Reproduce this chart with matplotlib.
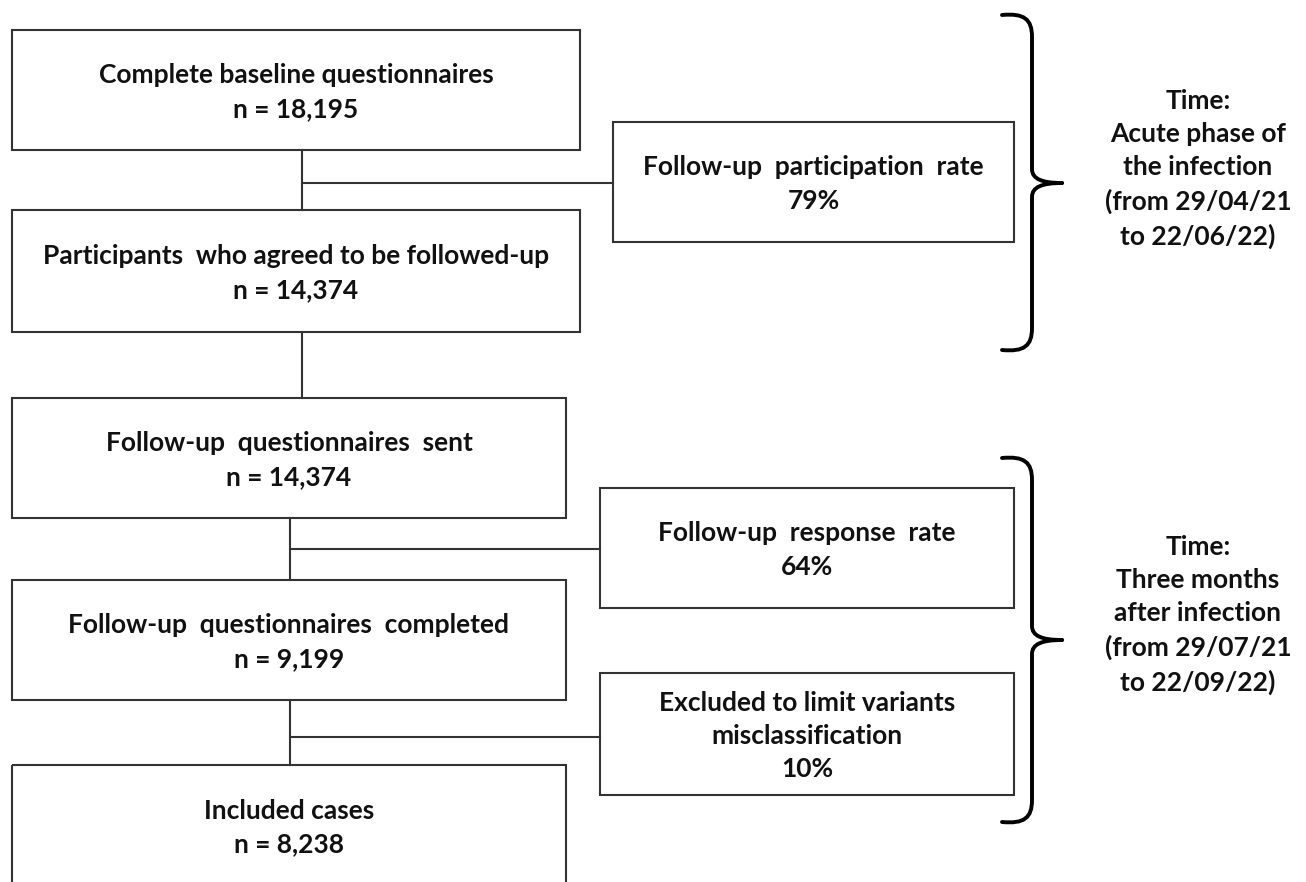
import matplotlib.pyplot as plt
from matplotlib.patches import Rectangle, PathPatch
from matplotlib.path import Path

# Textos do fluxograma
main_labels = [
    "Complete baseline questionnaires",
    "Participants  who agreed to be followed-up",
    "Follow-up  questionnaires  sent",
    "Follow-up  questionnaires  completed",
    "Included cases",
]
main_counts = [18195, 14374, 14374, 9199, 8238]

side_labels = [
    "Follow-up  participation  rate",
    "Follow-up  response  rate",
    "Excluded to limit variants\nmisclassification",
]
side_rates = [79, 64, 10]

period_labels = [
    "Time:\nAcute phase of\nthe infection\n(from 29/04/21\nto 22/06/22)",
    "Time:\nThree months\nafter infection\n(from 29/07/21\nto 22/09/22)",
]

# Layout em pixels (x0, y0, x1, y1); a última caixa sai pela borda inferior
MAIN_BOXES = [(12, 30, 580, 150), (12, 210, 580, 332), (12, 398, 566, 518),
              (12, 580, 566, 700), (12, 765, 566, 886)]
SIDE_BOXES = [(613, 122, 1014, 242), (600, 488, 1014, 608), (600, 673, 1014, 795)]
BRACES = [(1032, 15, 350, 183), (1032, 458, 822, 640)]
PERIOD_POS = [(1198, 169), (1198, 615)]

FONT = "Lato"
EDGE = "#333333"
TAMANHO = 19


def caixa(ax, box, texto, espacamento=1.47):
    x0, y0, x1, y1 = box
    ax.add_patch(Rectangle((x0, y0), x1 - x0, y1 - y0, fill=False,
                           edgecolor=EDGE, linewidth=1.5))
    yc = (y0 + y1) / 2 + 2
    ax.text((x0 + x1) / 2, yc, texto, ha="center", va="center",
            fontsize=TAMANHO, fontweight="bold", family=FONT,
            linespacing=espacamento, color="#111111")


def chave(ax, x, y0, y1, ym, stub=30, tip=30):
    verts = [
        (x - stub, y0), (x - 8, y0 - 2), (x, y0 + 4), (x, y0 + 22),
        (x, ym - 14),
        (x, ym - 4), (x + 10, ym), (x + tip, ym),
        (x + tip, ym), (x + 10, ym), (x, ym + 4), (x, ym + 14),
        (x, y1 - 22),
        (x, y1 - 4), (x - 8, y1 + 2), (x - stub, y1),
    ]
    codes = [Path.MOVETO, Path.CURVE4, Path.CURVE4, Path.CURVE4,
             Path.LINETO,
             Path.CURVE4, Path.CURVE4, Path.CURVE4,
             Path.MOVETO, Path.CURVE4, Path.CURVE4, Path.CURVE4,
             Path.LINETO,
             Path.CURVE4, Path.CURVE4, Path.CURVE4]
    ax.add_patch(PathPatch(Path(verts, codes), fill=False, edgecolor="black",
                           linewidth=2.8, capstyle="round"))


fig = plt.figure(figsize=(13.06, 8.82), dpi=100)
ax = fig.add_axes([0, 0, 1, 1])
ax.set_xlim(0, 1306)
ax.set_ylim(882, 0)
ax.axis("off")

# Caixas principais
for box, rotulo, n in zip(MAIN_BOXES, main_labels, main_counts):
    caixa(ax, box, f"{rotulo}\nn = {n:,}")

# Caixas laterais
for box, rotulo, pct in zip(SIDE_BOXES, side_labels, side_rates):
    caixa(ax, box, f"{rotulo}\n{pct}%")

# Conectores
linha = dict(color=EDGE, linewidth=1.5)
ax.plot([302, 302], [150, 210], **linha)
ax.plot([302, 613], [183, 183], **linha)
ax.plot([302, 302], [332, 398], **linha)
ax.plot([290, 290], [518, 580], **linha)
ax.plot([290, 600], [549, 549], **linha)
ax.plot([290, 290], [700, 765], **linha)
ax.plot([290, 600], [737, 737], **linha)

# Chaves e períodos
for (x, y0, y1, ym) in BRACES:
    chave(ax, x, y0, y1, ym)
for (x, y), texto in zip(PERIOD_POS, period_labels):
    ax.text(x, y, texto, ha="center", va="center", fontsize=TAMANHO,
            fontweight="bold", family=FONT, linespacing=1.45, color="#111111")

fig.savefig("out.png", dpi=100)
